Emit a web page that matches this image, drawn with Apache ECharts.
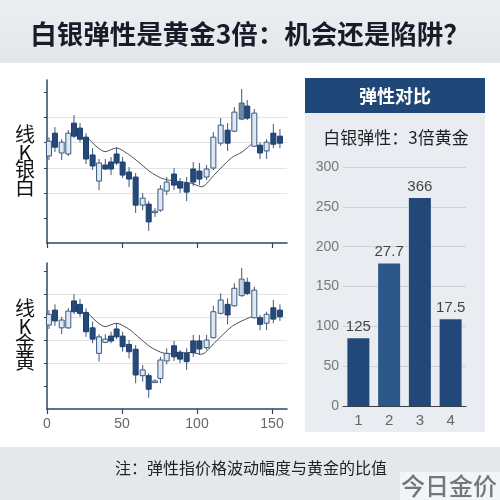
<!DOCTYPE html>
<html><head><meta charset="utf-8">
<script src="https://cdn.jsdelivr.net/npm/echarts@6/dist/echarts.min.js"></script>
<style>html,body{margin:0;padding:0;background:#fff}#c{width:500px;height:500px}</style>
</head><body><div id="c"></div>
<script>
// ---- data ----
const candleX = [1.3,5.3,9.8,14.2,18,22,26,30.4,34.7,38.9,42.7,46.4,50.4,54.7,59.1,63.8,67.8,72,75.6,79.8,84.7,88.7,93.1,97.5,101.6,106.4,110.9,115.8,120.4,124.9,129.8,133.5,138.2,142,146.4,150.9,155.3];

const silverOpen  = [34.7,43.8,35.9,35.5,47.8,45.8,42.2,35.1,24.7,31.1,32.3,35.5,32.3,28.3,26.3,15.1,15.5,12.4,13.1,20.7,27.5,24.3,23.9,29.5,28.7,26.3,29.9,39.8,45.0,44.6,49.4,54.6,38.6,39.0,36.7,43.8,42.6];
const silverClose = [40.6,38.2,40.2,43.8,42.6,41.4,33.5,30.7,31.9,29.5,29.5,31.9,27.1,25.5,15.1,17.9,8.4,12.7,21.5,24.3,23.1,21.9,20.3,24.3,25.5,29.5,42.2,47.0,39.8,52.2,55.8,49.8,51.8,35.9,40.2,39.4,39.8];
const silverLow   = [33.1,36.3,33.1,34.7,41.8,40.2,31.5,29.1,21.1,29.1,27.1,31.1,25.9,22.3,12.0,13.1,4.8,10.4,12.4,19.1,21.1,19.9,16.7,22.7,23.1,25.1,29.1,38.8,36.7,44.2,49.0,49.0,38.2,33.5,33.5,37.8,37.8];
const silverHigh  = [42.2,46.2,41.4,45.0,51.0,47.8,43.8,37.8,33.5,33.5,34.3,38.2,34.3,30.3,27.9,19.9,16.7,13.9,23.1,26.3,29.9,25.9,26.3,32.3,31.9,31.1,44.2,49.8,47.8,54.2,61.4,57.0,53.4,40.2,41.4,47.4,45.4];

const goldOpen  = [36.5,43.0,35.3,35.3,47.0,45.5,42.0,35.3,24.2,29.0,31.7,34.8,31.7,28.1,26.0,14.5,14.5,11.6,13.3,20.9,27.5,24.7,24.2,29.6,29.6,26.7,31.0,41.6,45.5,44.9,49.3,55.1,39.7,39.7,37.3,44.0,43.0];
const goldClose = [41.2,38.3,38.7,42.6,42.3,41.6,33.6,30.4,31.4,30.4,29.6,31.4,27.1,24.9,14.8,17.0,8.6,12.2,21.3,24.2,22.7,21.7,20.6,24.5,26.1,30.0,42.3,47.4,40.9,52.5,56.5,50.3,51.7,36.8,41.2,39.1,40.1];
const goldLow   = [34.8,36.2,32.5,34.8,41.2,40.1,31.4,28.6,20.6,28.6,28.6,30.4,24.9,22.0,11.2,11.9,4.9,11.2,11.2,19.4,20.9,19.9,17.0,22.7,23.5,25.7,30.7,41.2,36.8,44.5,48.8,49.6,39.4,34.3,34.3,37.3,38.3];
const goldHigh  = [43.0,45.5,40.1,44.0,49.9,47.8,43.8,38.0,32.5,32.5,33.6,37.3,33.6,30.0,27.8,19.1,15.5,13.0,22.7,26.4,29.6,25.7,26.4,32.2,32.2,32.2,44.9,50.3,48.1,54.7,61.4,57.1,53.2,40.9,42.3,47.4,45.5];

const maX      = [26.4,38.7,46.2,54.5,62,68.7,75.8,80.9,96.4,103,112,123,129.8,137.5];
const silverMA = [42.4,36.4,37.9,35.3,31.8,28.4,26.0,25.1,23.8,22.4,27.5,34.0,36.2,40.0];
const goldMA   = [42.3,35.8,37.3,34.8,30.7,27.1,24.7,24.0,24.6,23.8,29.0,35.8,38.3,40.4];

const xTickLabels = [0,50,100,150];

const barCategories = ['1','2','3','4'];
const barValues = [85,179,261,109];
const barLabels = ['125','27.7','366','17.5'];

const accentIndex = 30;

// ---- build ----
const cjk = '"Noto Sans CJK SC", "Noto Sans", sans-serif';
const num = '"Liberation Sans", Arial, sans-serif';

function candles(o, c, l, h) {
  return candleX.map((x, i) => [x, o[i], c[i], l[i], h[i]]);
}
function maLine(vals) { return maX.map((x, i) => [x, vals[i]]); }

function candleRender(accentFill) {
  return function (params, api) {
    const x = api.value(0), o = api.value(1), c = api.value(2), lo = api.value(3), hi = api.value(4);
    const pHi = api.coord([x, hi]), pLo = api.coord([x, lo]);
    const pO = api.coord([x, o]), pC = api.coord([x, c]);
    const w = 5;
    const up = c >= o;
    const top = Math.min(pO[1], pC[1]);
    const hgt = Math.max(Math.abs(pO[1] - pC[1]), 1.5);
    let fill = up ? '#dfe8f3' : '#24497a';
    let stroke = up ? '#3b5a80' : '#1d3f6b';
    if (params.dataIndex === accentIndex) { fill = accentFill; stroke = '#4a6484'; }
    return {
      type: 'group',
      children: [
        { type: 'line', shape: { x1: pHi[0], y1: pHi[1], x2: pLo[0], y2: pLo[1] }, style: { stroke: '#3d5878', lineWidth: 1 } },
        { type: 'rect', shape: { x: pO[0] - w / 2, y: top, width: w, height: hgt }, style: { fill: fill, stroke: stroke, lineWidth: 1 } }
      ]
    };
  };
}

const axisColor = '#2b4563';
function kxAxis(gi, showLabels) {
  return {
    type: 'value', gridIndex: gi, min: 0, max: 160,
    axisLine: { show: true, lineStyle: { color: axisColor, width: 1.5 } },
    axisTick: { show: true, customValues: xTickLabels, length: 5, lineStyle: { color: axisColor, width: 1.2 } },
    axisLabel: { show: showLabels, customValues: xTickLabels, color: '#666', fontSize: 14, fontFamily: num, margin: 8 },
    splitLine: { show: false }
  };
}
function kyAxis(gi, max) {
  return {
    type: 'value', gridIndex: gi, min: 0, max: max, interval: 10,
    axisLine: { show: true, onZero: false, lineStyle: { color: axisColor, width: 1.5 } },
    axisTick: { show: true, length: 3, customValues: [10,20,30,40,50,60], lineStyle: { color: axisColor } },
    axisLabel: { show: false },
    splitLine: { show: true, showMinLine: false, showMaxLine: false, lineStyle: { color: '#e1e3e6', width: 1 } }
  };
}

const option = {
  backgroundColor: '#ffffff',
  animation: false,
  grid: [
    { left: 47, top: 80, width: 240, height: 163 },
    { left: 47, top: 263, width: 240, height: 146 },
    { left: 343, top: 167, width: 123, height: 239 }
  ],
  xAxis: [
    kxAxis(0, false),
    kxAxis(1, true),
    {
      type: 'category', gridIndex: 2, data: barCategories,
      axisLine: { show: true, lineStyle: { color: '#3a3f46', width: 1.2 } },
      axisTick: { show: false },
      axisLabel: { color: '#666', fontSize: 15, fontFamily: num, margin: 7 }
    }
  ],
  yAxis: [
    kyAxis(0, 65),
    kyAxis(1, 63.5),
    {
      type: 'value', gridIndex: 2, min: 0, max: 300, interval: 50,
      axisLine: { show: false }, axisTick: { show: false },
      axisLabel: { color: '#777', fontSize: 14, fontFamily: num, margin: 4 },
      splitLine: { show: true, lineStyle: { color: '#cdd2d8', width: 1 } }
    }
  ],
  graphic: [
    { type: 'rect', z: -10, shape: { x: 0, y: 0, width: 500, height: 63 },
      style: { fill: new echarts.graphic.LinearGradient(0, 0, 0, 1, [{ offset: 0, color: '#eceef1' }, { offset: 1, color: '#e4e7ea' }]) } },
    { type: 'rect', z: -10, shape: { x: 0, y: 447, width: 500, height: 53 }, style: { fill: '#e5e8eb' } },
    { type: 'rect', z: -10, shape: { x: 305, y: 113, width: 180, height: 319 }, style: { fill: '#e9edf1' } },
    { type: 'rect', z: -10, shape: { x: 305, y: 78, width: 180, height: 35 }, style: { fill: '#1f4878' } },
    { type: 'text', z: 100, x: 250, y: 34, style: { text: '白银弹性是黄金3倍：机会还是陷阱？', fill: '#181b28', font: 'bold 26.5px ' + cjk, align: 'center', verticalAlign: 'middle' } },
    { type: 'text', z: 100, x: 395, y: 96, style: { text: '弹性对比', fill: '#ffffff', font: 'bold 18px ' + cjk, align: 'center', verticalAlign: 'middle' } },
    { type: 'text', z: 100, x: 396, y: 138, style: { text: '白银弹性：3倍黄金', fill: '#1f2026', font: '17px ' + cjk, align: 'center', verticalAlign: 'middle' } },
    { type: 'text', z: 100, x: 25, y: 161, style: { text: '线\nK\n银\n白', fill: '#111', font: '20px ' + cjk, lineHeight: 17.5, align: 'center', verticalAlign: 'middle' } },
    { type: 'text', z: 100, x: 25, y: 335, style: { text: '线\nK\n金\n黄', fill: '#111', font: '20px ' + cjk, lineHeight: 17.5, align: 'center', verticalAlign: 'middle' } },
    { type: 'text', z: 100, x: 251, y: 468, style: { text: '注：弹性指价格波动幅度与黄金的比值', fill: '#222', font: '16px ' + cjk, align: 'center', verticalAlign: 'middle' } },
    { type: 'rect', z: 90, shape: { x: 400, y: 472, width: 100, height: 28 }, style: { fill: 'rgba(245,246,247,0.8)' } },
    { type: 'text', z: 100, x: 449, y: 486, style: { text: '今日金价', fill: '#747679', font: '500 24px ' + cjk, align: 'center', verticalAlign: 'middle' } }
  ],
  series: [
    { type: 'custom', xAxisIndex: 0, yAxisIndex: 0, renderItem: candleRender('#7089a8'), data: candles(silverOpen, silverClose, silverLow, silverHigh), encode: { x: 0, y: [1, 2, 3, 4] }, z: 3 },
    { type: 'line', xAxisIndex: 0, yAxisIndex: 0, data: maLine(silverMA), smooth: 0.25, symbol: 'none', lineStyle: { color: '#4a4d52', width: 1 }, z: 2 },
    { type: 'custom', xAxisIndex: 1, yAxisIndex: 1, renderItem: candleRender('#c5d2e2'), data: candles(goldOpen, goldClose, goldLow, goldHigh), encode: { x: 0, y: [1, 2, 3, 4] }, z: 3 },
    { type: 'line', xAxisIndex: 1, yAxisIndex: 1, data: maLine(goldMA), smooth: 0.25, symbol: 'none', lineStyle: { color: '#4a4d52', width: 1 }, z: 2 },
    {
      type: 'bar', xAxisIndex: 2, yAxisIndex: 2, data: barValues, barWidth: 22,
      itemStyle: { color: function (p) { return p.dataIndex === 1 ? '#2b5889' : '#22487a'; } },
      label: { show: true, position: 'top', distance: 4, color: '#444', fontSize: 15, fontFamily: num, formatter: function (p) { return barLabels[p.dataIndex]; } }
    }
  ]
};
const chart = echarts.init(document.getElementById('c'), null, { renderer: 'canvas' });
chart.setOption(option);
</script>
</body></html>
